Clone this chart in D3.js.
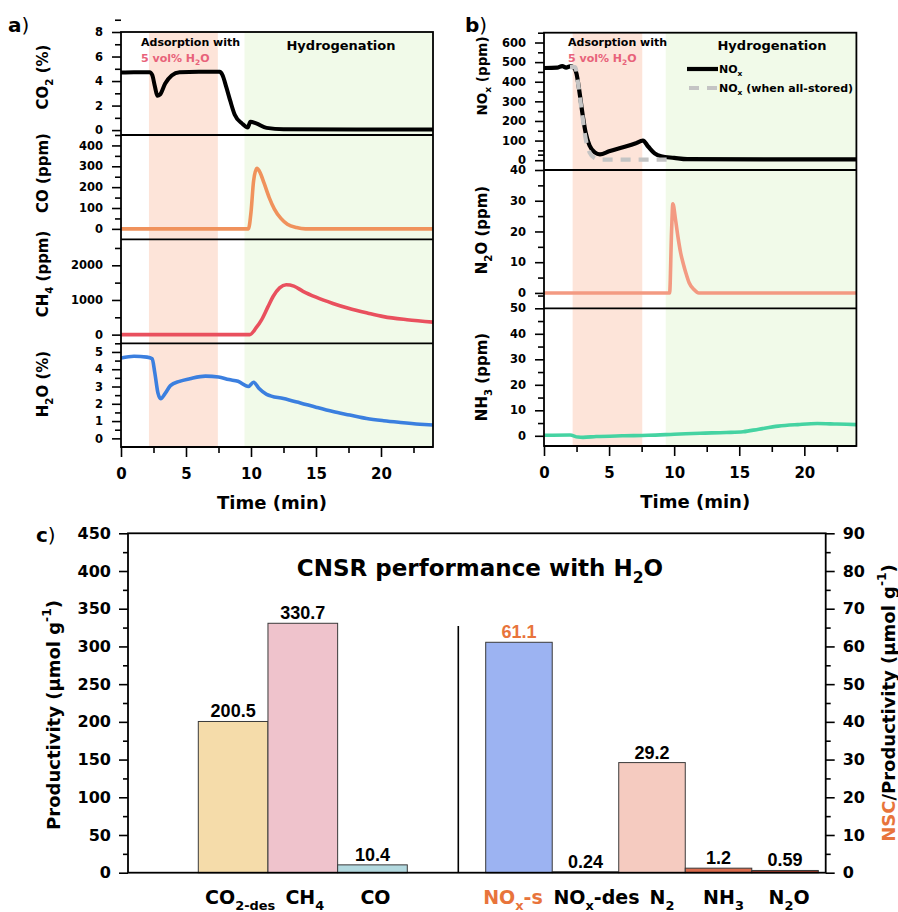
<!DOCTYPE html>
<html>
<head>
<meta charset="utf-8">
<script src="https://cdn.jsdelivr.net/npm/d3@7"></script>
<style>
body { margin: 0; background: #fff; }
text { font-family: "DejaVu Sans", sans-serif; font-weight: bold; }
</style>
</head>
<body>
<script>
// ---- time series: [time (min), value] ----
var co2 = [[0,4.7],[1,4.72],[2.2,4.72],[2.4,4.5],[2.6,3.6],[2.8,2.8],[3.0,2.9],[3.4,3.8],[3.9,4.45],[4.5,4.72],[6,4.75],[7.6,4.75],[7.8,4.5],[8.1,3.5],[8.4,2.4],[8.75,1.25],[9.3,0.55],[9.75,0.22],[9.95,0.68],[10.4,0.55],[11.2,0.18],[12.5,0.06],[24,0.05]];
var co = [[0,0],[9.8,0],[10.0,80],[10.2,230],[10.45,290],[10.7,270],[11.0,220],[11.4,150],[11.8,95],[12.3,50],[12.8,22],[13.5,6],[14.2,0],[24,0]];
var ch4 = [[0,0],[9.9,0],[10.4,200],[10.8,420],[11.3,800],[11.7,1100],[12.2,1350],[12.7,1440],[13.3,1400],[14,1250],[15,1080],[16.3,900],[17.5,760],[19,620],[20.2,520],[22,430],[24,360]];
var h2o = [[0,4.65],[1,4.75],[2,4.7],[2.4,4.6],[2.6,3.8],[2.85,2.6],[3.05,2.3],[3.4,2.6],[3.8,3.05],[4.5,3.3],[5.3,3.45],[6.5,3.6],[7.5,3.55],[8.3,3.4],[9.0,3.3],[9.8,3.0],[10.2,3.25],[10.6,2.9],[11.2,2.55],[12.5,2.3],[13.8,2.05],[15,1.8],[16.3,1.55],[17.6,1.35],[18.9,1.15],[20.2,1.02],[21.5,0.92],[23,0.82],[24,0.77]];
var nox = [[0,470],[1,472],[1.4,480],[1.7,472],[2.0,478],[2.3,472],[2.5,440],[2.7,360],[2.95,240],[3.2,140],[3.5,75],[3.9,40],[4.3,30],[5,45],[6,65],[7,85],[7.6,100],[8.0,70],[8.5,35],[9,20],[10,12],[11,5],[24,4]];
var noxStored = [[2.0,475],[2.4,475],[2.6,400],[2.9,250],[3.2,110],[3.5,40],[3.9,10],[4.3,3],[9.7,3]];
var n2o = [[0,0],[9.65,0],[9.8,20],[9.9,29],[10.1,24],[10.3,18],[10.5,13],[10.7,9.5],[10.9,6.5],[11.15,3.3],[11.5,1.2],[11.9,0],[24,0]];
var nh3 = [[0,0.2],[2,0.3],[2.6,-0.5],[3,-0.6],[4,-0.3],[6,0],[8,0.2],[10,0.6],[12,1.0],[14,1.3],[15.3,1.6],[16.5,2.6],[18,3.8],[19.5,4.4],[21,4.8],[22.5,4.6],[24,4.4]];

// adsorption (pink) and hydrogenation (green) windows, min
var phasesA = [[2.15, 7.45], [9.5, 24]];
var phasesB = [[2.2, 7.55], [9.35, 24]];
var timeTicks = [0, 5, 10, 15, 20];

// ---- bar data ----
var prodCats = ["CO2-des", "CH4", "CO"];
var prodVals = [200.5, 330.7, 10.4];
var prodText = ["200.5", "330.7", "10.4"];
var nscCats = ["NOx-s", "NOx-des", "N2", "NH3", "N2O"];
var nscVals = [61.1, 0.24, 29.2, 1.2, 0.59];
var nscText = ["61.1", "0.24", "29.2", "1.2", "0.59"];
var prodTicks = [0, 50, 100, 150, 200, 250, 300, 350, 400, 450];
var nscTicks = [0, 10, 20, 30, 40, 50, 60, 70, 80, 90];

var orange = "#e8743b";
var prodColors = ["#f5dcaa", "#efc3cc", "#b3d9df"];
var nscColors = ["#9cb3f2", "#b8b8b8", "#f5cbc0", "#d96b4d", "#a63c2c"];

var W = 898, H = 912;
var svg = d3.select("body").append("svg").attr("width", W).attr("height", H);
var fmt = d3.format("~g");

// text with sub/superscript parts: [text, "sub"|"sup"|"", colour]
function rich(sel, parts, size) {
    var off = 0;
    parts.forEach(function(p) {
        var t = sel.append("tspan").text(p[0]);
        var want = p[1] == "sub" ? size * 0.3 : p[1] == "sup" ? -size * 0.45 : 0;
        if (want - off != 0) t.attr("dy", want - off);
        if (p[1]) t.attr("font-size", size * 0.68);
        if (p[2]) t.attr("fill", p[2]);
        off = want;
    });
    return sel;
}

function styleAxis(ax, size) {
    ax.attr("font-family", null).attr("font-size", size);
    ax.select(".domain").remove();
    ax.selectAll("line").attr("stroke-width", 1.6);
    ax.selectAll("text").attr("fill", "#000");
}

function drawStack(opt) {
    var g = svg.append("g");
    var x = d3.scaleLinear().domain([0, 24]).range([opt.x0, opt.x1]);
    var top = opt.subs[0].range[1],
        bottom = opt.subs[opt.subs.length - 1].range[0];

    g.append("rect")
        .attr("x", x(opt.phases[0][0])).attr("width", x(opt.phases[0][1]) - x(opt.phases[0][0]))
        .attr("y", top).attr("height", bottom - top).attr("fill", "#fde4d9");
    g.append("rect")
        .attr("x", x(opt.phases[1][0])).attr("width", x(opt.phases[1][1]) - x(opt.phases[1][0]))
        .attr("y", top).attr("height", bottom - top).attr("fill", "#f1fae9");

    opt.subs.forEach(function(s) {
        var y = d3.scaleLinear().domain(s.domain).range(s.range);
        var line = d3.line()
            .x(function(d) { return x(d[0]); })
            .y(function(d) { return y(d[1]); })
            .curve(d3.curveMonotoneX);

        s.series.forEach(function(se) {
            g.append("path").datum(se.data)
                .attr("d", line)
                .attr("fill", "none")
                .attr("stroke", se.color)
                .attr("stroke-width", se.width || 3.6)
                .attr("stroke-dasharray", se.dash || null)
                .attr("stroke-linejoin", "round");
        });

        var major = g.append("g").attr("transform", "translate(" + opt.x0 + ",0)")
            .call(d3.axisLeft(y).tickValues(s.ticks).tickSize(9).tickPadding(9).tickFormat(fmt));
        styleAxis(major, 11.5);
        var minor = g.append("g").attr("transform", "translate(" + opt.x0 + ",0)")
            .call(d3.axisLeft(y).tickValues(s.ticks.map(function(v) { return v + s.step / 2; })).tickSize(6).tickFormat(""));
        styleAxis(minor, 11.5);

        g.append("line")
            .attr("x1", opt.x0).attr("x2", opt.x1)
            .attr("y1", s.range[0]).attr("y2", s.range[0])
            .attr("stroke", "#000").attr("stroke-width", 1.8);

        var fs = s.titleSize || 15;
        rich(g.append("text")
            .attr("transform", "translate(" + (opt.titleX + fs * 0.36) + "," + s.titleY + ") rotate(-90)")
            .attr("text-anchor", "middle").attr("font-size", fs), s.title, fs);
    });

    g.append("rect")
        .attr("x", opt.x0).attr("y", top)
        .attr("width", opt.x1 - opt.x0).attr("height", bottom - top)
        .attr("fill", "none").attr("stroke", "#000").attr("stroke-width", 1.8);

    var xa = g.append("g").attr("transform", "translate(0," + bottom + ")")
        .call(d3.axisBottom(x).tickValues(timeTicks).tickSize(10).tickPadding(11));
    styleAxis(xa, 15);
    var xm = g.append("g").attr("transform", "translate(0," + bottom + ")")
        .call(d3.axisBottom(x).tickValues(timeTicks.map(function(v) { return v + 2.5; })).tickSize(6).tickFormat(""));
    styleAxis(xm, 15);

    g.append("text")
        .attr("x", (opt.x0 + opt.x1) / 2 - 5).attr("y", bottom + 62)
        .attr("text-anchor", "middle").attr("font-size", 18)
        .text("Time (min)");

    // phase captions
    g.append("text").attr("x", opt.adsX).attr("y", 46).attr("font-size", 11).text("Adsorption with");
    rich(g.append("text").attr("x", opt.adsX).attr("y", 62).attr("font-size", 11).attr("fill", "#e8627a"),
        [["5 vol% H", ""], ["2", "sub"], ["O", ""]], 11);
    g.append("text").attr("x", opt.hydX).attr("y", 50).attr("text-anchor", "middle")
        .attr("font-size", 13).text("Hydrogenation");

    var lab = g.append("text").attr("x", opt.letterX).attr("y", 32).attr("font-size", 20);
    lab.append("tspan").text(opt.letter);
    lab.append("tspan").attr("font-weight", "normal").text(")");
    return x;
}

// ---- panel a ----
drawStack({
    x0: 121, x1: 433, titleX: 43, adsX: 141, hydX: 341, letter: "a", letterX: 8,
    phases: phasesA,
    subs: [
        { range: [135, 32], domain: [-0.4, 8], ticks: [0, 2, 4, 6, 8], step: 2, titleY: 77,
          title: [["CO", ""], ["2", "sub"], [" (%)", ""]], series: [{ data: co2, color: "#000", width: 4 }] },
        { range: [239.3, 135], domain: [-50, 450], ticks: [0, 100, 200, 300, 400], step: 100, titleY: 173,
          title: [["CO (ppm)", ""]], series: [{ data: co, color: "#f0925c" }] },
        { range: [343.3, 239.3], domain: [-250, 2750], ticks: [0, 1000, 2000], step: 1000, titleY: 274,
          title: [["CH", ""], ["4", "sub"], [" (ppm)", ""]], series: [{ data: ch4, color: "#e9505e" }] },
        { range: [447, 343.3], domain: [-0.5, 5.5], ticks: [0, 1, 2, 3, 4, 5], step: 1, titleY: 384,
          title: [["H", ""], ["2", "sub"], ["O (%)", ""]], series: [{ data: h2o, color: "#3b7fdf" }] }
    ]
});

// ---- panel b ----
drawStack({
    x0: 544, x1: 856.4, titleX: 482, adsX: 568, hydX: 772, letter: "b", letterX: 465,
    phases: phasesB,
    subs: [
        { range: [170, 32.7], domain: [-50, 650], ticks: [0, 100, 200, 300, 400, 500, 600], step: 100, titleY: 76,
          titleSize: 13.5, title: [["NO", ""], ["x", "sub"], [" (ppm)", ""]],
          series: [{ data: nox, color: "#000", width: 4.2 }, { data: noxStored, color: "#c4c4c4", width: 4.2, dash: "10,8" }] },
        { range: [308.3, 170], domain: [-5, 40], ticks: [0, 10, 20, 30, 40], step: 10, titleY: 230,
          title: [["N", ""], ["2", "sub"], ["O (ppm)", ""]], series: [{ data: n2o, color: "#f39a82" }] },
        { range: [446, 308.3], domain: [-4, 50], ticks: [0, 10, 20, 30, 40, 50], step: 10, titleY: 377,
          title: [["NH", ""], ["3", "sub"], [" (ppm)", ""]], series: [{ data: nh3, color: "#45d3a2" }] }
    ]
});

// legend in b
var lg = svg.append("g");
lg.append("line").attr("x1", 687).attr("x2", 718).attr("y1", 69).attr("y2", 69)
    .attr("stroke", "#000").attr("stroke-width", 4.2);
rich(lg.append("text").attr("x", 719).attr("y", 73).attr("font-size", 11), [["NO", ""], ["x", "sub"]], 11);
lg.append("line").attr("x1", 689).attr("x2", 718).attr("y1", 88).attr("y2", 88)
    .attr("stroke", "#c4c4c4").attr("stroke-width", 4.2).attr("stroke-dasharray", "10,8");
rich(lg.append("text").attr("x", 719).attr("y", 92).attr("font-size", 11),
    [["NO", ""], ["x", "sub"], [" (when all-stored)", ""]], 11);

// ---- panel c ----
var cL = 128, cR = 825.7, cT = 533.3, cB = 872.7;
var gc = svg.append("g");
var yL = d3.scaleLinear().domain([0, 450]).range([cB, cT]);
var yR = d3.scaleLinear().domain([0, 90]).range([cB, cT]);
var xL = d3.scaleBand().domain(prodCats).range([198.3, 407.3]);
var xR = d3.scaleBand().domain(nscCats).range([485.7, 818.3]);

gc.selectAll(".pbar").data(prodVals).enter().append("rect")
    .attr("x", function(d, i) { return xL(prodCats[i]); })
    .attr("width", xL.bandwidth())
    .attr("y", function(d) { return yL(d); })
    .attr("height", function(d) { return cB - yL(d); })
    .attr("fill", function(d, i) { return prodColors[i]; })
    .attr("stroke", "#3a3a3a").attr("stroke-width", 1);
gc.selectAll(".nbar").data(nscVals).enter().append("rect")
    .attr("x", function(d, i) { return xR(nscCats[i]); })
    .attr("width", xR.bandwidth())
    .attr("y", function(d) { return yR(d); })
    .attr("height", function(d) { return cB - yR(d); })
    .attr("fill", function(d, i) { return nscColors[i]; })
    .attr("stroke", "#3a3a3a").attr("stroke-width", 1);

gc.selectAll(".pval").data(prodVals).enter().append("text")
    .attr("x", function(d, i) { return xL(prodCats[i]) + xL.bandwidth() / 2; })
    .attr("y", function(d) { return yL(d) - 4; })
    .attr("text-anchor", "middle")
    .style("font-family", "'Liberation Sans', Arial, sans-serif").attr("font-size", 18)
    .text(function(d, i) { return prodText[i]; });
gc.selectAll(".nval").data(nscVals).enter().append("text")
    .attr("x", function(d, i) { return xR(nscCats[i]) + xR.bandwidth() / 2; })
    .attr("y", function(d) { return yR(d) - 4; })
    .attr("text-anchor", "middle")
    .attr("fill", function(d, i) { return i == 0 ? orange : "#000"; })
    .style("font-family", "'Liberation Sans', Arial, sans-serif").attr("font-size", 18)
    .text(function(d, i) { return nscText[i]; });

// separator between the two groups
gc.append("line").attr("x1", 458.3).attr("x2", 458.3).attr("y1", 626).attr("y2", cB)
    .attr("stroke", "#000").attr("stroke-width", 1.6);

// frame
gc.append("rect").attr("x", cL).attr("y", cT).attr("width", cR - cL).attr("height", cB - cT)
    .attr("fill", "none").attr("stroke", "#000").attr("stroke-width", 1.8);

var la = gc.append("g").attr("transform", "translate(" + cL + ",0)")
    .call(d3.axisLeft(yL).tickValues(prodTicks).tickSize(9).tickPadding(8));
styleAxis(la, 16);
var lm = gc.append("g").attr("transform", "translate(" + cL + ",0)")
    .call(d3.axisLeft(yL).tickValues(prodTicks.slice(0, -1).map(function(v) { return v + 25; })).tickSize(5).tickFormat(""));
styleAxis(lm, 16);
var ra = gc.append("g").attr("transform", "translate(" + cR + ",0)")
    .call(d3.axisRight(yR).tickValues(nscTicks).tickSize(9).tickPadding(8));
styleAxis(ra, 16);
var rm = gc.append("g").attr("transform", "translate(" + cR + ",0)")
    .call(d3.axisRight(yR).tickValues(nscTicks.slice(0, -1).map(function(v) { return v + 5; })).tickSize(5).tickFormat(""));
styleAxis(rm, 16);

// category labels
var catParts = {
    "CO2-des": [["CO", ""], ["2-des", "sub"]],
    "CH4": [["CH", ""], ["4", "sub"]],
    "CO": [["CO", ""]],
    "NOx-s": [["NO", "", orange], ["x", "sub", orange], ["-s", "", orange]],
    "NOx-des": [["NO", ""], ["x", "sub"], ["-des", ""]],
    "N2": [["N", ""], ["2", "sub"]],
    "NH3": [["NH", ""], ["3", "sub"]],
    "N2O": [["N", ""], ["2", "sub"], ["O", ""]]
};
var prodShift = [7, 2, 3];
var nscShift = [-6, 11, 10, 5, 4];
prodCats.forEach(function(c, i) {
    rich(gc.append("text").attr("x", xL(c) + xL.bandwidth() / 2 + prodShift[i]).attr("y", 904)
        .attr("text-anchor", "middle").attr("font-size", 19), catParts[c], 19);
});
nscCats.forEach(function(c, i) {
    rich(gc.append("text").attr("x", xR(c) + xR.bandwidth() / 2 + nscShift[i]).attr("y", 904)
        .attr("text-anchor", "middle").attr("font-size", 19), catParts[c], 19);
});

// title
rich(gc.append("text").attr("x", 480).attr("y", 576).attr("text-anchor", "middle").attr("font-size", 23),
    [["CNSR performance with H", ""], ["2", "sub"], ["O", ""]], 23);

// axis titles
rich(gc.append("text").attr("transform", "translate(" + (53 + 6.5) + ",715) rotate(-90)")
    .attr("text-anchor", "middle").attr("font-size", 18),
    [["Productivity (\u00b5mol g", ""], ["-1", "sup"], [")", ""]], 18);
rich(gc.append("text").attr("transform", "translate(" + (888 + 6.5) + ",703) rotate(-90)")
    .attr("text-anchor", "middle").attr("font-size", 18),
    [["NSC", "", orange], ["/Productivity (\u00b5mol g", ""], ["-1", "sup"], [")", ""]], 18);

var lc = gc.append("text").attr("x", 36).attr("y", 542).attr("font-size", 20);
lc.append("tspan").text("c");
lc.append("tspan").attr("font-weight", "normal").text(")");
</script>
</body>
</html>
